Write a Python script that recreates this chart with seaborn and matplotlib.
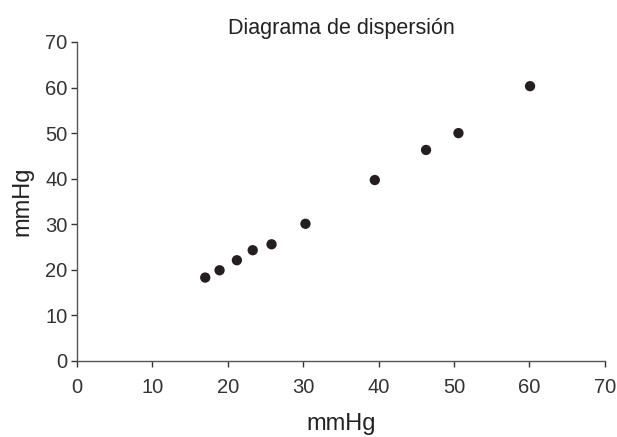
import pandas as pd
import seaborn as sns
import matplotlib.pyplot as plt

# Data
x_mmhg = [17.0, 18.9, 21.2, 23.3, 25.8, 30.3, 39.5, 46.3, 50.6, 60.1]
y_mmhg = [18.3, 19.9, 22.1, 24.3, 25.6, 30.1, 39.7, 46.3, 50.0, 60.3]
ticks = [0, 10, 20, 30, 40, 50, 60, 70]

df = pd.DataFrame({'x': x_mmhg, 'y': y_mmhg})

sns.set_style("ticks")
plt.rcParams['font.family'] = ['Liberation Sans', 'DejaVu Sans']

fig, ax = plt.subplots(figsize=(6.17, 4.37), dpi=100)
fig.subplots_adjust(left=0.125, right=0.98, bottom=0.174, top=0.904)

sns.scatterplot(data=df, x='x', y='y', ax=ax, color='#231f20',
                s=55, edgecolor='none')

ax.set_xlim(0, 70)
ax.set_ylim(0, 70)
ax.set_xticks(ticks)
ax.set_yticks(ticks)
ax.tick_params(labelsize=14.5, colors='#333333', length=4, width=1, pad=3)
ax.tick_params(axis='x', pad=8)

for side in ['top', 'right']:
    ax.spines[side].set_visible(False)
for side in ['left', 'bottom']:
    ax.spines[side].set_color('#555555')
    ax.spines[side].set_linewidth(1)

ax.set_xlabel('mmHg', fontsize=17, color='#222222', labelpad=12)
ax.set_ylabel('mmHg', fontsize=17, color='#222222', labelpad=8)
ax.set_title('Diagrama de dispersión', fontsize=15.5, color='#222222', pad=6)

fig.savefig('out.png', dpi=100)
